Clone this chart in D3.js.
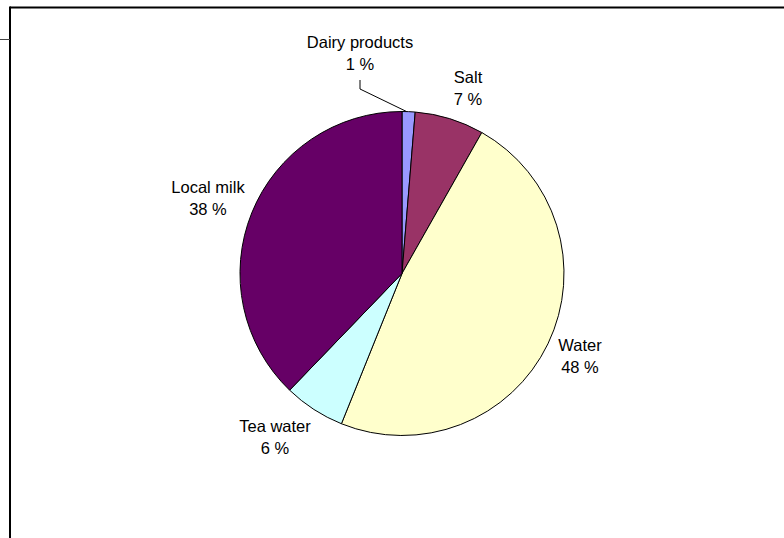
<!DOCTYPE html>
<html>
<head>
<meta charset="utf-8">
<script src="https://cdn.jsdelivr.net/npm/d3@7"></script>
<style>
html,body{margin:0;padding:0;background:#fff;}
svg{display:block;}
text{font-family:"Liberation Sans",Arial,sans-serif;font-size:16.5px;fill:#000;}
</style>
</head>
<body>
<svg id="chart" width="784" height="538"></svg>
<script>
const categories = ["Dairy products", "Salt", "Water", "Tea water", "Local milk"];
const values = [1.3, 6.9, 47.9, 6.1, 37.8];
const colors = ["#9999FF", "#993366", "#FFFFCC", "#CCFFFF", "#660066"];
const percentLabels = ["1 %", "7 %", "48 %", "6 %", "38 %"];
// label anchor positions (centre x, first baseline y)
const labelX = [360, 468, 580, 275, 208];
const labelY = [48, 83, 351, 432, 193];

const svg = d3.select("#chart");

// frame
svg.append("line").attr("x1", 10).attr("y1", 7.5).attr("x2", 784).attr("y2", 7.5)
  .attr("stroke", "#000").attr("stroke-width", 2);
svg.append("line").attr("x1", 10).attr("y1", 6.5).attr("x2", 10).attr("y2", 538)
  .attr("stroke", "#000").attr("stroke-width", 2);
svg.append("line").attr("x1", 0).attr("y1", 39.5).attr("x2", 10).attr("y2", 39.5)
  .attr("stroke", "#444").attr("stroke-width", 1);

const cx = 402, cy = 273.5, r = 162;
const data = categories.map((c, i) => ({name: c, value: values[i], color: colors[i], pct: percentLabels[i], lx: labelX[i], ly: labelY[i]}));
const pie = d3.pie().sort(null).value(d => d.value).startAngle(0).endAngle(2 * Math.PI);
const arc = d3.arc().innerRadius(0).outerRadius(r);

const g = svg.append("g").attr("transform", `translate(${cx},${cy})`);
g.selectAll("path").data(pie(data)).enter().append("path")
  .attr("d", arc)
  .attr("fill", d => d.data.color)
  .attr("stroke", "#000")
  .attr("stroke-width", 1);

// leader line for Dairy products
const dairyArc = pie(data)[0];
const ang = dairyArc.startAngle + (dairyArc.endAngle - dairyArc.startAngle) * 0.35;
const px = cx + Math.sin(ang) * r, py = cy - Math.cos(ang) * r;
svg.append("polyline")
  .attr("points", `360,80 360,89 ${px},${py}`)
  .attr("fill", "none").attr("stroke", "#000").attr("stroke-width", 1);

const labels = svg.selectAll("text.lbl").data(data).enter().append("text")
  .attr("class", "lbl")
  .attr("text-anchor", "middle")
  .attr("x", d => d.lx)
  .attr("y", d => d.ly);
labels.append("tspan").attr("x", d => d.lx).text(d => d.name);
labels.append("tspan").attr("x", d => d.lx).attr("dy", 22).text(d => d.pct);
</script>
</body>
</html>
